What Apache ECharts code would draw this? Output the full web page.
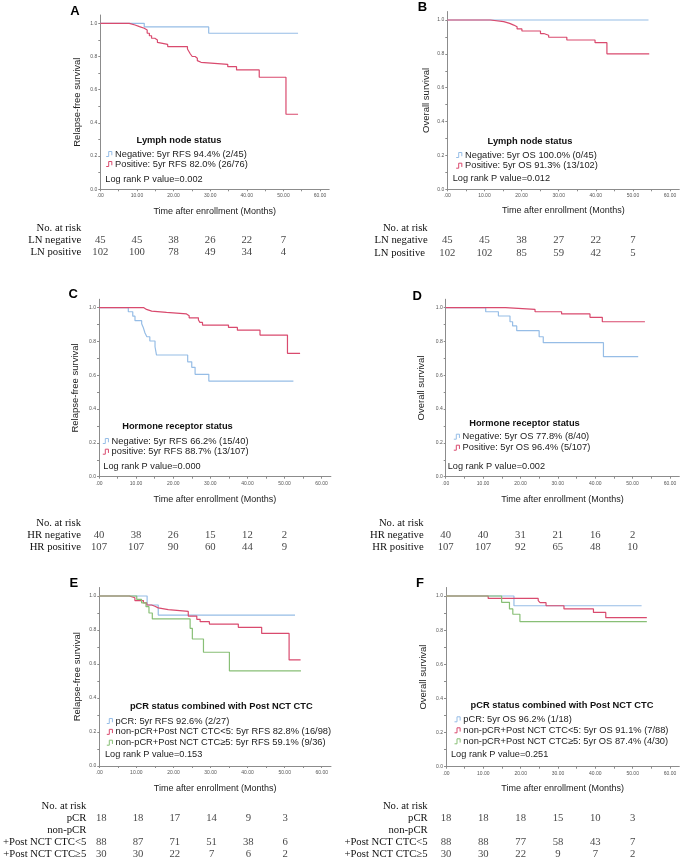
<!DOCTYPE html>
<html><head><meta charset="utf-8">
<script src="https://cdn.jsdelivr.net/npm/echarts@6/dist/echarts.min.js"></script>
<style>html,body{margin:0;padding:0;background:#fff}#c{width:685px;height:861px}</style>
</head><body><div id="c"></div>
<script>
// ---------- DATA ----------
const riskTimes = [0, 10, 20, 30, 40, 50];

// Panel A (RFS by lymph node status)
const A_negT = [0, 12.0, 29.6, 54.0];
const A_negS = [1, 0.978, 0.94, 0.94];
const A_posT = [0, 7.9, 9.5, 10.7, 12.0, 12.8, 13.4, 14.0, 14.9, 15.6, 15.9, 18.4, 23.8, 24.2, 24.6, 25.1, 25.9, 26.5, 27.0, 27.5, 34.8, 37.2, 43.4, 50.7, 54.0];
const A_posS = [1, 0.99, 0.98, 0.97, 0.96, 0.94, 0.925, 0.91, 0.90, 0.885, 0.873, 0.86, 0.845, 0.83, 0.815, 0.80, 0.79, 0.775, 0.765, 0.753, 0.739, 0.719, 0.675, 0.452, 0.452];
const A_riskNeg = [45, 45, 38, 26, 22, 7];
const A_riskPos = [102, 100, 78, 49, 34, 4];

// Panel B (OS by lymph node status)
const B_negT = [0, 54.2];
const B_negS = [1, 1];
const B_posT = [0, 11.6, 15.2, 16.8, 17.9, 18.8, 20.1, 25.1, 26.0, 27.3, 32.2, 39.8, 43.0, 54.4];
const B_posS = [1, 0.99, 0.98, 0.97, 0.96, 0.947, 0.935, 0.92, 0.91, 0.898, 0.882, 0.866, 0.80, 0.80];
const B_riskNeg = [45, 45, 38, 27, 22, 7];
const B_riskPos = [102, 102, 85, 59, 42, 5];

// Panel C (RFS by hormone receptor status)
const C_negT = [0, 7.9, 9.1, 9.7, 11.5, 11.9, 12.4, 12.9, 13.7, 15.1, 15.5, 23.9, 25.0, 25.9, 29.6, 52.4];
const C_negS = [1, 0.976, 0.95, 0.923, 0.905, 0.885, 0.85, 0.828, 0.803, 0.769, 0.72, 0.68, 0.647, 0.606, 0.566, 0.566];
const C_posT = [0, 12.1, 12.8, 14.2, 18.2, 23.6, 24.3, 26.8, 27.2, 27.9, 34.9, 37.3, 43.4, 50.8, 54.2];
const C_posS = [1, 0.99, 0.98, 0.972, 0.963, 0.953, 0.94, 0.927, 0.913, 0.897, 0.883, 0.867, 0.838, 0.73, 0.73];
const C_riskNeg = [40, 38, 26, 15, 12, 2];
const C_riskPos = [107, 107, 90, 60, 44, 9];

// Panel D (OS by hormone receptor status)
const D_negT = [0, 10.7, 14.1, 17.2, 17.9, 19.0, 25.0, 26.1, 42.2, 51.5];
const D_negS = [1, 0.976, 0.951, 0.917, 0.892, 0.864, 0.828, 0.793, 0.71, 0.71];
const D_posT = [0, 16.0, 23.9, 31.0, 38.6, 41.9, 53.3];
const D_posS = [1, 0.99, 0.976, 0.963, 0.943, 0.917, 0.917];
const D_riskNeg = [40, 40, 31, 21, 16, 2];
const D_riskPos = [107, 107, 92, 65, 48, 10];

// Panel E (RFS by pCR + post NCT CTC)
const E_pcrT = [0, 12.9, 15.9, 52.8];
const E_pcrS = [1, 0.947, 0.888, 0.888];
const E_lt5T = [0, 8.1, 9.6, 11.9, 12.8, 14.1, 15.0, 15.9, 18.6, 24.0, 26.3, 27.2, 29.7, 37.5, 43.8, 51.2, 54.3];
const E_lt5S = [1, 0.99, 0.973, 0.96, 0.947, 0.94, 0.93, 0.92, 0.909, 0.882, 0.863, 0.849, 0.835, 0.816, 0.78, 0.624, 0.624];
const E_ge5T = [0, 10.1, 11.4, 12.6, 13.4, 14.3, 24.5, 25.1, 28.1, 35.1, 54.4];
const E_ge5S = [1, 0.98, 0.96, 0.937, 0.90, 0.865, 0.81, 0.747, 0.669, 0.559, 0.559];
const E_riskPcr = [18, 18, 17, 14, 9, 3];
const E_riskLt5 = [88, 87, 71, 51, 38, 6];
const E_riskGe5 = [30, 30, 22, 7, 6, 2];

// Panel F (OS by pCR + post NCT CTC)
const F_pcrT = [0, 18.2, 52.4];
const F_pcrS = [1, 0.943, 0.943];
const F_lt5T = [0, 11.3, 24.7, 25.2, 26.8, 31.6, 39.5, 42.8, 53.8];
const F_lt5S = [1, 0.986, 0.973, 0.961, 0.943, 0.924, 0.904, 0.873, 0.873];
const F_ge5T = [0, 14.9, 17.0, 17.9, 19.8, 53.8];
const F_ge5S = [1, 0.963, 0.924, 0.893, 0.85, 0.85];
const F_riskPcr = [18, 18, 18, 15, 10, 3];
const F_riskLt5 = [88, 88, 77, 58, 43, 7];
const F_riskGe5 = [30, 30, 22, 9, 7, 2];

// ---------- STYLE / LAYOUT ----------
const SANS = '"Liberation Sans", Arial, sans-serif';
const SERIF = '"Liberation Serif", "Times New Roman", serif';
const BLUE = '#96bde6', RED = '#d94a6e', GREEN = '#88bf76';
const STEP_ICON = 'path://M0,8L4,8L4,0L9,0L9,6';
const XMAX = 62.5, YMAX = 1.05;

const panels = [
  { letter: 'A', letterPos: [75, 11.7], x0: 100.3, pxu: 3.662, y0: 189.3, pys: 166, yName: 'Relapse-free survival', yGap: 17.5, xGap: 17.5,
    legTitle: 'Lymph node status', legTitlePos: [179, 140], legText: 116.7, legFirst: 154, pitch: 10,
    logText: 'Log rank P value=0.002', logPos: [105.3, 179],
    curves: [
      { name: 'Negative: 5yr RFS 94.4% (2/45)', t: A_negT, s: A_negS, color: BLUE },
      { name: 'Positive: 5yr RFS 82.0% (26/76)', t: A_posT, s: A_posS, color: RED } ],
    riskRows: ['No. at risk', 'LN negative', 'LN positive'],
    risk: [ ['LN negative', A_riskNeg], ['LN positive', A_riskPos] ],
    riskFirst: 227.7, riskPitch: 12.2, riskMargin: 19 },
  { letter: 'B', letterPos: [422.5, 7.2], x0: 447.3, pxu: 3.712, y0: 189.3, pys: 169.3, yName: 'Overall survival', yGap: 16, xGap: 17.2,
    legTitle: 'Lymph node status', legTitlePos: [530, 141], legText: 466.7, legFirst: 155, pitch: 10.7,
    logText: 'Log rank P value=0.012', logPos: [452.7, 178.3],
    curves: [
      { name: 'Negative: 5yr OS 100.0% (0/45)', t: B_negT, s: B_negS, color: BLUE },
      { name: 'Positive: 5yr OS 91.3% (13/102)', t: B_posT, s: B_posS, color: RED } ],
    riskRows: ['No. at risk', 'LN negative', 'LN positive '],
    risk: [ ['LN negative', B_riskNeg], ['LN positive ', B_riskPos] ],
    riskFirst: 228.3, riskPitch: 12.2, riskMargin: 19.6 },
  { letter: 'C', letterPos: [73.3, 294.7], x0: 99, pxu: 3.71, y0: 476.7, pys: 169, yName: 'Relapse-free survival', yGap: 18.5, xGap: 18,
    legTitle: 'Hormone receptor status', legTitlePos: [177.5, 426], legText: 113.3, legFirst: 441, pitch: 10.7,
    logText: 'Log rank P value=0.000', logPos: [103.3, 466],
    curves: [
      { name: 'Negative: 5yr RFS 66.2% (15/40)', t: C_negT, s: C_negS, color: BLUE },
      { name: 'positive: 5yr RFS 88.7% (13/107)', t: C_posT, s: C_posS, color: RED } ],
    riskRows: ['No. at risk', 'HR negative', 'HR positive'],
    risk: [ ['HR negative', C_riskNeg], ['HR positive', C_riskPos] ],
    riskFirst: 522.7, riskPitch: 12, riskMargin: 18 },
  { letter: 'D', letterPos: [417.2, 296.2], x0: 445.7, pxu: 3.738, y0: 476.7, pys: 169, yName: 'Overall survival', yGap: 19.5, xGap: 18,
    legTitle: 'Hormone receptor status', legTitlePos: [524.5, 423.3], legText: 464.3, legFirst: 436.7, pitch: 11,
    logText: 'Log rank P value=0.002', logPos: [447.7, 466],
    curves: [
      { name: 'Negative: 5yr OS 77.8% (8/40)', t: D_negT, s: D_negS, color: BLUE },
      { name: 'Positive: 5yr OS 96.4% (5/107)', t: D_posT, s: D_posS, color: RED } ],
    riskRows: ['No. at risk', 'HR negative', 'HR positive'],
    risk: [ ['HR negative', D_riskNeg], ['HR positive', D_riskPos] ],
    riskFirst: 522.7, riskPitch: 12, riskMargin: 22 },
  { letter: 'E', letterPos: [73.8, 583.8], x0: 99.3, pxu: 3.707, y0: 766, pys: 170, yName: 'Relapse-free survival', yGap: 17, xGap: 17.8,
    legTitle: 'pCR status combined with Post NCT CTC', legTitlePos: [221.3, 706.7], legText: 117.3, legFirst: 721, pitch: 10.85,
    logText: 'Log rank P value=0.153', logPos: [105, 754.3],
    curves: [
      { name: 'pCR: 5yr RFS 92.6% (2/27)', t: E_pcrT, s: E_pcrS, color: BLUE },
      { name: 'non-pCR+Post NCT CTC<5: 5yr RFS 82.8% (16/98)', t: E_lt5T, s: E_lt5S, color: RED },
      { name: 'non-pCR+Post NCT CTC≥5: 5yr RFS 59.1% (9/36)', t: E_ge5T, s: E_ge5S, color: GREEN } ],
    riskRows: ['No. at risk', 'pCR', 'non-pCR', '+Post NCT CTC<5', '+Post NCT CTC≥5'],
    risk: [ ['pCR', E_riskPcr], ['+Post NCT CTC<5', E_riskLt5], ['+Post NCT CTC≥5', E_riskGe5] ],
    riskFirst: 806, riskPitch: 12.1, riskMargin: 15 },
  { letter: 'F', letterPos: [420, 583.8], x0: 446, pxu: 3.733, y0: 766.7, pys: 170.7, yName: 'Overall survival', yGap: 18, xGap: 17,
    legTitle: 'pCR status combined with Post NCT CTC', legTitlePos: [562, 705.7], legText: 465, legFirst: 719.3, pitch: 11,
    logText: 'Log rank P value=0.251', logPos: [451, 754.3],
    curves: [
      { name: 'pCR: 5yr OS 96.2% (1/18)', t: F_pcrT, s: F_pcrS, color: BLUE },
      { name: 'non-pCR+Post NCT CTC<5: 5yr OS 91.1% (7/88)', t: F_lt5T, s: F_lt5S, color: RED },
      { name: 'non-pCR+Post NCT CTC≥5: 5yr OS 87.4% (4/30)', t: F_ge5T, s: F_ge5S, color: GREEN } ],
    riskRows: ['No. at risk', 'pCR', 'non-pCR', '+Post NCT CTC<5', '+Post NCT CTC≥5'],
    risk: [ ['pCR', F_riskPcr], ['+Post NCT CTC<5', F_riskLt5], ['+Post NCT CTC≥5', F_riskGe5] ],
    riskFirst: 806, riskPitch: 12.15, riskMargin: 18.3 }
];

// ---------- BUILD OPTION ----------
const grid = [], xAxis = [], yAxis = [], series = [], legend = [], graphic = [];
const axisGrey = '#8c8c8c';

panels.forEach((p, i) => {
  const gMain = i * 2, gRisk = i * 2 + 1;
  grid.push({ left: p.x0, top: p.y0 - YMAX * p.pys, width: XMAX * p.pxu, height: YMAX * p.pys, containLabel: false });
  grid.push({ left: p.x0, top: p.riskFirst - p.riskPitch / 2, width: XMAX * p.pxu, height: p.riskRows.length * p.riskPitch, containLabel: false });

  xAxis.push({
    type: 'value', gridIndex: gMain, min: 0, max: XMAX, interval: 5,
    axisLine: { lineStyle: { color: axisGrey, width: 1 } },
    axisTick: { length: 2, lineStyle: { color: axisGrey } },
    splitLine: { show: false },
    axisLabel: { fontSize: 5, color: '#555', fontFamily: SANS, margin: 4, showMaxLabel: false,
      formatter: v => (Math.round(v) % 10 === 0 && v <= 60) ? (v === 0 ? '.00' : v.toFixed(2)) : '' },
    name: 'Time after enrollment (Months)', nameLocation: 'middle', nameGap: p.xGap,
    nameTextStyle: { fontSize: 9, color: '#222', fontFamily: SANS }
  });
  xAxis.push({ type: 'value', gridIndex: gRisk, min: 0, max: XMAX, show: false });

  yAxis.push({
    type: 'value', gridIndex: gMain, min: 0, max: YMAX, interval: 0.1,
    axisLine: { show: true, lineStyle: { color: axisGrey, width: 1 } },
    axisTick: { show: true, length: 2, lineStyle: { color: axisGrey } },
    splitLine: { show: false },
    axisLabel: { fontSize: 5, color: '#555', fontFamily: SANS, margin: 3, showMaxLabel: false,
      formatter: v => (Math.round(v * 10) % 2 === 0 && v <= 1.0001) ? v.toFixed(1) : '' },
    name: p.yName, nameLocation: 'middle', nameGap: p.yGap,
    nameTextStyle: { fontSize: 9.5, color: '#222', fontFamily: SANS }
  });
  yAxis.push({
    type: 'category', gridIndex: gRisk, inverse: true, data: p.riskRows,
    axisLine: { show: false }, axisTick: { show: false }, splitLine: { show: false },
    axisLabel: { interval: 0, fontSize: 10.7, color: '#111', fontFamily: SERIF, margin: p.riskMargin }
  });

  p.curves.forEach(c => {
    series.push({
      type: 'line', name: c.name, xAxisIndex: gMain, yAxisIndex: gMain, step: 'end',
      data: c.t.map((t, k) => [t, c.s[k]]), showSymbol: false, symbol: 'none',
      lineStyle: { color: c.color, width: 1.2 }, itemStyle: { color: c.color, borderColor: c.color },
      silent: true, animation: false
    });
  });

  p.risk.forEach(([row, vals]) => {
    series.push({
      type: 'scatter', xAxisIndex: gRisk, yAxisIndex: gRisk, symbolSize: 1,
      itemStyle: { color: 'rgba(0,0,0,0)' },
      data: vals.map((v, k) => [riskTimes[k], row, v]),
      label: { show: true, position: 'inside', formatter: q => String(q.value[2]),
        fontSize: 10.7, color: '#111', fontFamily: SERIF },
      silent: true, animation: false
    });
  });

  legend.push({
    orient: 'vertical', left: p.legText - 11, top: p.legFirst - p.pitch / 2, padding: 0, itemGap: 0,
    itemWidth: 10, itemHeight: 5, icon: STEP_ICON, selectedMode: false,
    data: p.curves.map(c => ({ name: c.name, itemStyle: { color: 'rgba(0,0,0,0)', borderColor: c.color, borderWidth: 1 } })),
    textStyle: { fontSize: 9.3, color: '#222', fontFamily: SANS, lineHeight: p.pitch, padding: [0, 0, 0, -4] }
  });

  graphic.push({ type: 'text', x: p.letterPos[0], y: p.letterPos[1],
    style: { text: p.letter, font: 'bold 13px ' + SANS, fill: '#000', textAlign: 'center', textVerticalAlign: 'middle' } });
  graphic.push({ type: 'text', x: p.legTitlePos[0], y: p.legTitlePos[1],
    style: { text: p.legTitle, font: 'bold 9.3px ' + SANS, fill: '#111', textAlign: 'center', textVerticalAlign: 'middle' } });
  graphic.push({ type: 'text', x: p.logPos[0], y: p.logPos[1],
    style: { text: p.logText, font: '9.2px ' + SANS, fill: '#222', textAlign: 'left', textVerticalAlign: 'middle' } });
});

const chart = echarts.init(document.getElementById('c'), null, { renderer: 'canvas' });
chart.setOption({ backgroundColor: '#fff', animation: false, grid, xAxis, yAxis, series, legend, graphic });
</script>
</body></html>
